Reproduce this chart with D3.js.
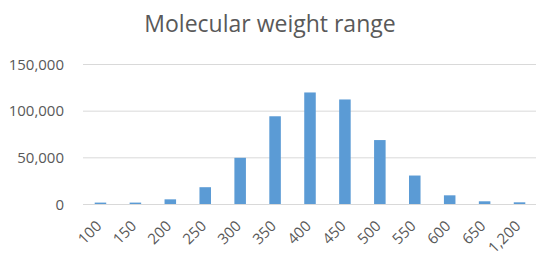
<!DOCTYPE html>
<html><head><meta charset="utf-8">
<script src="https://cdn.jsdelivr.net/npm/d3@7"></script>
<style>body{margin:0;background:#fff}svg{display:block}</style>
</head><body>
<script>
const categories = ["100","150","200","250","300","350","400","450","500","550","600","650","1,200"];
const values = [1500,1500,5000,18000,49500,94000,119500,112000,68500,30500,9300,2900,1800];
const yTicks = [0,50000,100000,150000];
const title = "Molecular weight range";

const W=536,H=253;
const svg=d3.select("body").append("svg").attr("width",W).attr("height",H);
const x=d3.scaleBand().domain(categories).range([83,537]).paddingInner(0.67).paddingOuter(0.335);
const y=d3.scaleLinear().domain([0,150000]).range([204,64]);
const font="'Open Sans', sans-serif";

svg.append("text").attr("x",270).attr("y",32).attr("text-anchor","middle")
  .attr("font-family",font).attr("font-size",23).attr("fill","#595959").text(title);

const ya=svg.append("g").attr("transform","translate(83,0)")
  .call(d3.axisLeft(y).tickValues(yTicks).tickSize(-454).tickFormat(d3.format(",")));
ya.select(".domain").remove();
ya.selectAll(".tick line").attr("stroke","#d9d9d9");
ya.selectAll(".tick text").attr("x",-19).attr("dy","0.34em").attr("font-family",font).attr("font-size",15).attr("fill","#595959");

svg.selectAll("rect.bar").data(values).join("rect").attr("class","bar")
  .attr("x",(d,i)=>x(categories[i])).attr("width",x.bandwidth())
  .attr("y",d=>y(d)).attr("height",d=>y(0)-y(d)).attr("fill","#5b9bd5");

const xa=svg.append("g").attr("transform","translate(0,204)")
  .call(d3.axisBottom(x).tickSize(0));
xa.select(".domain").attr("stroke","#d9d9d9");
xa.selectAll(".tick text").attr("text-anchor","end").attr("dy",0).attr("y",0)
  .attr("transform","translate(2,23) rotate(-45)")
  .attr("font-family",font).attr("font-size",15).attr("fill","#595959");
</script>
</body></html>
